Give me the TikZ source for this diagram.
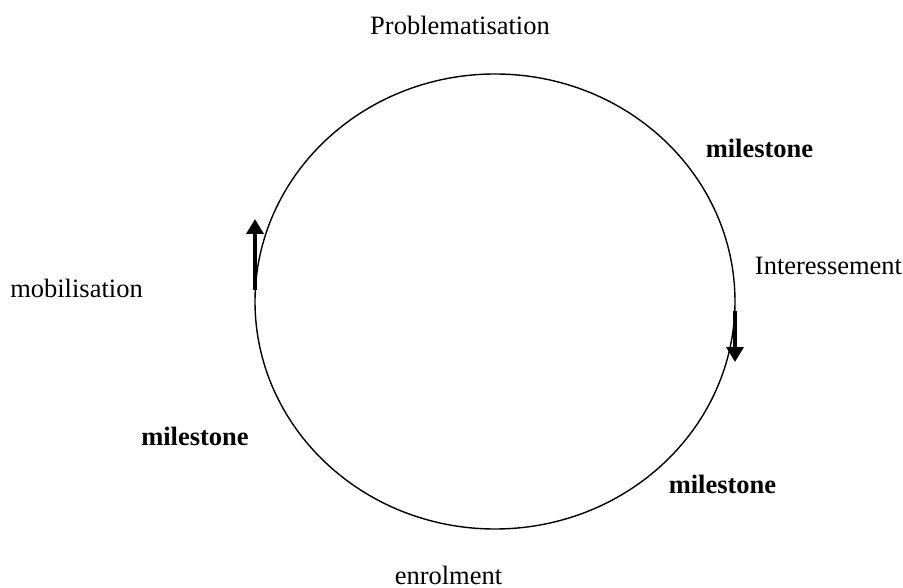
\documentclass[tikz,border=0pt]{standalone}
\usepackage{fontspec}
\setmainfont{Liberation Serif}
\usetikzlibrary{arrows.meta}
\begin{document}
\begin{tikzpicture}[x=1pt,y=-1pt,
  lbl/.style={font=\fontsize{26.5}{30}\selectfont, inner sep=0pt, anchor=base},
  mile/.style={lbl, font=\fontsize{26.5}{30}\selectfont\bfseries},
  flow/.style={line width=3.5pt, -{Triangle[length=15pt,width=17pt]}}]
  \useasboundingbox (0,0) rectangle (903,588);
  % cycle
  \draw[line width=1.4pt] (495,301.5) ellipse [x radius=240, y radius=227.5];
  % phase labels
  \node[lbl] (prob) at (460,35) {Problematisation};
  \node[lbl] (inter) at (828.5,275) {Interessement};
  \node[lbl] (enrol) at (448.5,584) {enrolment};
  \node[lbl] (mobil) at (76.5,298) {mobilisation};
  % milestones
  \node[mile] (m1) at (759.5,158) {milestone};
  \node[mile] (m2) at (722.5,493) {milestone};
  \node[mile] (m3) at (195,445) {milestone};
  % direction arrows
  \coordinate (la) at (255,290);
  \coordinate (lb) at (255,219);
  \coordinate (ra) at (735,311);
  \coordinate (rb) at (735,362);
  \draw[flow] (la) -- (lb);
  \draw[flow] (ra) -- (rb);
\end{tikzpicture}
\end{document}
